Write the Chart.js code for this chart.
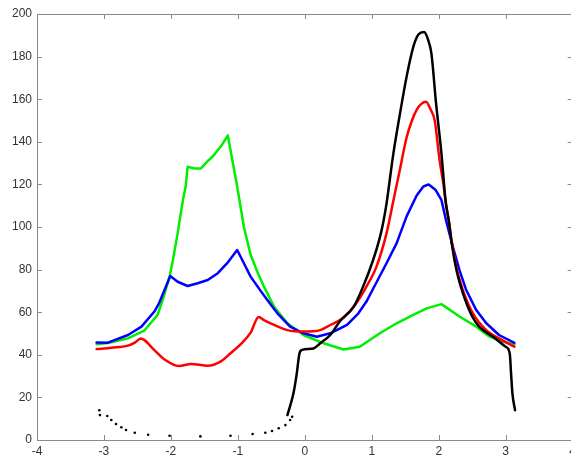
<!DOCTYPE html>
<html>
  <head>
    <meta charset='utf-8'>
    <title>Four curves</title>
    <style>
      body {
        margin: 0;
        overflow: hidden;
        background: white;
      }
    </style>
    <script src='https://cdn.jsdelivr.net/npm/chart.js@4.4.1/dist/chart.umd.min.js'></script>
  </head>
  <body>
    <canvas id='chart' width='580' height='456'></canvas>

    <script>
    // axis ranges / ticks
    var xRange = [-4, 4];
    var yRange = [0, 200];
    var xStep = 1;
    var yStep = 20;

    // green curve
    var greenX = [-3.11, -2.94, -2.64, -2.4, -2.2, -2.12, -2.02, -1.97, -1.9, -1.82, -1.78, -1.75,
      -1.65, -1.55, -1.45, -1.38, -1.25, -1.15, -1.11, -1.01, -0.91, -0.81, -0.71, -0.61, -0.46,
      -0.26, -0.02, 0.28, 0.58, 0.82, 1.12, 1.37, 1.62, 1.82, 2.04, 2.31, 2.56, 2.76, 2.95, 3.13];
    var greenY = [45, 45.5, 47.7, 51.3, 58.7, 66, 76.7, 84.5, 97, 112.7, 119, 128.3,
      127.5, 127.5, 131, 133, 138, 143, 136, 119, 100, 87, 79, 72, 62.6,
      54.8, 49.3, 45.4, 42.5, 43.8, 50.1, 54.8, 58.7, 61.8, 63.8, 58, 53.2, 48.5, 46.2, 44.8];

    // blue curve
    var blueX = [-3.11, -2.94, -2.64, -2.44, -2.25, -2.18, -2.01, -1.9, -1.75, -1.6, -1.45, -1.3,
      -1.16, -1.01, -0.91, -0.81, -0.66, -0.56, -0.41, -0.22, -0.02, 0.18, 0.38, 0.63, 0.8,
      0.92, 1.02, 1.12, 1.22, 1.37, 1.52, 1.67, 1.77, 1.85, 1.95, 2.04, 2.11, 2.21, 2.31, 2.41,
      2.56, 2.71, 2.9, 3.13];
    var blueY = [45.8, 45.7, 49.3, 53.2, 60.2, 64, 77, 74.3, 72.3, 73.6, 75.1, 78.3,
      83, 89.2, 83, 76.7, 70, 65.7, 59.5, 53.2, 50.1, 48.5, 50.1, 54, 59.5,
      65, 71, 77, 83, 92.3, 105, 114.8, 119, 120, 117.5, 112.7, 103, 90.8, 79.8, 70.4,
      61, 54.8, 49.3, 45.6];

    // red curve
    var redX = [-3.11, -2.89, -2.64, -2.54, -2.45, -2.4, -2.25, -2.1, -1.88, -1.7, -1.45, -1.26,
      -1.11, -0.96, -0.81, -0.69, -0.61, -0.51, -0.26, -0.02, 0.23, 0.38, 0.58, 0.75, 0.92,
      1.07, 1.22, 1.32, 1.42, 1.52, 1.6, 1.67, 1.74, 1.81, 1.88, 1.94, 2.01, 2.07, 2.11, 2.15,
      2.19, 2.26, 2.36, 2.51, 2.71, 2.95, 3.13];
    var redY = [42.7, 43.3, 44.3, 45.7, 47.6, 47, 42.3, 37.9, 34.7, 35.7, 34.9, 36.8,
      40.7, 44.9, 50.4, 57.8, 56.3, 54.8, 51.6, 50.9, 51.6, 54, 57.5, 63.4, 72,
      81.4, 97, 112, 127, 142, 150, 155, 157.8, 158.8, 155, 150, 132, 120, 110, 103,
      94, 81.4, 70.4, 59.5, 51.6, 46.9, 43.8];

    // black curve, dense part
    var blackX = [-0.26, -0.17, -0.12, -0.08, -0.04, 0.13, 0.23, 0.38, 0.53, 0.73, 0.87, 1.02,
      1.12, 1.17, 1.22, 1.32, 1.42, 1.52, 1.62, 1.7, 1.78, 1.84, 1.89, 1.96, 2.04, 2.1, 2.15,
      2.2, 2.27, 2.36, 2.5, 2.61, 2.81, 3.0, 3.06, 3.08, 3.1, 3.14];
    var blackY = [11.7, 21.9, 31.3, 40.7, 42.3, 43, 45.4, 49.3, 56, 62.6, 72, 84.5,
      95, 102, 111, 134, 153, 170.6, 184.6, 190.5, 191.5, 188, 181.5, 158, 134.6, 113, 103,
      91, 79, 69, 58, 53, 48.5, 43.8, 40.7, 31.3, 21.9, 14];

    // black curve, sparse dots
    var dotsX = [-3.07, -3.06, -2.95, -2.89, -2.82, -2.74, -2.67, -2.54, -2.34, -2.02, -1.56,
      -1.11, -0.78, -0.59, -0.49, -0.39, -0.29, -0.22, -0.19];
    var dotsY = [14, 11.7, 11.3, 9.4, 7.5, 6, 4.7, 3.4, 2.5, 2, 1.7,
      2, 2.8, 3.4, 4.2, 5.5, 7, 9.4, 10.9];

    function pts(xs, ys) {
      return xs.map(function (x, i) { return { x: x, y: ys[i] }; });
    }

    // MATLAB-like box with inward ticks
    var framePlugin = {
      id: 'frame',
      afterDatasetsDraw: function (chart) {
        var ctx = chart.ctx, a = chart.chartArea;
        var xs = chart.scales.x, ys = chart.scales.y;
        ctx.save();
        ctx.strokeStyle = '#8a8a8a';
        ctx.lineWidth = 1;
        ctx.strokeRect(a.left + 0.5, a.top + 0.5, a.right - a.left, a.bottom - a.top);
        ctx.beginPath();
        xs.ticks.forEach(function (t) {
          var px = Math.round(xs.getPixelForValue(t.value)) + 0.5;
          ctx.moveTo(px, a.bottom); ctx.lineTo(px, a.bottom - 5);
          ctx.moveTo(px, a.top); ctx.lineTo(px, a.top + 5);
        });
        ys.ticks.forEach(function (t) {
          var py = Math.round(ys.getPixelForValue(t.value)) + 0.5;
          ctx.moveTo(a.left, py); ctx.lineTo(a.left + 5, py);
          ctx.moveTo(a.right, py); ctx.lineTo(a.right - 5, py);
        });
        ctx.stroke();
        ctx.restore();
      }
    };

    var tickFont = { family: 'Arial, "Liberation Sans", sans-serif', size: 12 };

    var chart = new Chart(document.getElementById('chart'), {
      type: 'line',
      data: {
        datasets: [
          { data: pts(dotsX, dotsY), showLine: false, pointRadius: 1.3, pointBackgroundColor: '#000', pointBorderWidth: 0 },
          { data: pts(blackX, blackY), borderColor: '#000000', cubicInterpolationMode: 'monotone' },
          { data: pts(redX, redY), borderColor: '#ff0000', cubicInterpolationMode: 'monotone' },
          { data: pts(blueX, blueY), borderColor: '#0000ff' },
          { data: pts(greenX, greenY), borderColor: '#00ee00' }
        ]
      },
      options: {
        responsive: false,
        animation: false,
        layout: { padding: { top: 14, right: 7, left: 0, bottom: 0 } },
        elements: {
          line: { borderWidth: 2.5, tension: 0, borderJoinStyle: 'round', borderCapStyle: 'round' },
          point: { radius: 0 }
        },
        plugins: { legend: { display: false }, tooltip: { enabled: false } },
        scales: {
          x: {
            type: 'linear',
            min: xRange[0],
            max: xRange[1],
            grid: { display: false, drawTicks: false },
            border: { display: false },
            ticks: { stepSize: xStep, padding: 4, color: '#333', font: tickFont, maxRotation: 0 },
            afterFit: function (scale) { scale.height = 16; }
          },
          y: {
            min: yRange[0],
            max: yRange[1],
            grid: { display: false, drawTicks: false },
            border: { display: false },
            ticks: { stepSize: yStep, padding: 5, color: '#333', font: tickFont },
            afterFit: function (scale) { scale.width = 37; }
          }
        }
      },
      plugins: [framePlugin]
    });
    </script>
  </body>
</html>
